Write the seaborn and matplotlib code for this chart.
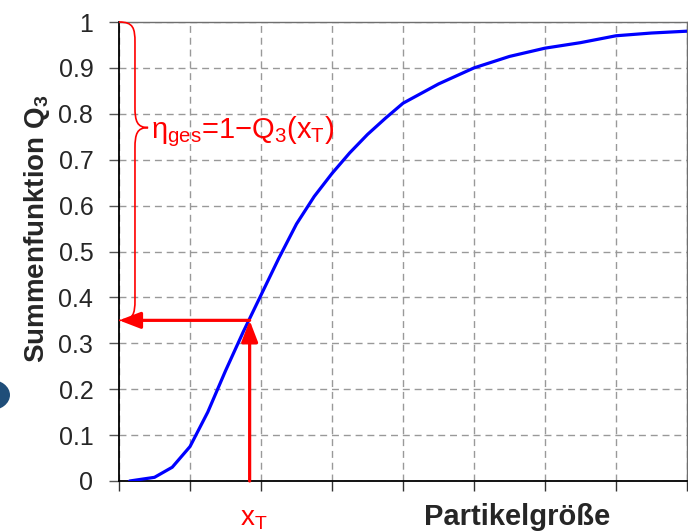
import numpy as np
import pandas as pd
import matplotlib
matplotlib.use("Agg")
import matplotlib.pyplot as plt
from matplotlib.path import Path
from matplotlib.patches import PathPatch, Circle
import seaborn as sns

# ================= data =================
particle_size = [0.15, 0.5, 0.75, 1.0, 1.25, 1.5, 1.75, 2.0, 2.25, 2.5, 2.75, 3.0,
                 3.25, 3.5, 3.75, 4.0, 4.5, 5.0, 5.5, 6.0, 6.5, 7.0, 7.5, 8.0]
q3_values = [0.0, 0.008, 0.03, 0.075, 0.15, 0.24, 0.325, 0.405, 0.485, 0.56, 0.62, 0.67,
             0.715, 0.755, 0.79, 0.823, 0.865, 0.900, 0.925, 0.943, 0.955, 0.970, 0.976, 0.980]
x_ticks = [0, 1, 2, 3, 4, 5, 6, 7, 8]
y_ticks = [0, 0.1, 0.2, 0.3, 0.4, 0.5, 0.6, 0.7, 0.8, 0.9, 1.0]
y_ticklabels = ['0', '0.1', '0.2', '0.3', '0.4', '0.5', '0.6', '0.7', '0.8', '0.9', '1']

x_T = 1.84      # Trenngrenze
Q_T = 0.35      # Q3(x_T)
brace_tip_y = 0.77

RED = '#ff0000'
BLUE = '#0000ff'

sns.set_style('ticks')
plt.rcParams['font.family'] = ['Liberation Sans', 'DejaVu Sans']
plt.rcParams['mathtext.fontset'] = 'custom'
plt.rcParams['mathtext.rm'] = 'Liberation Sans'
plt.rcParams['mathtext.it'] = 'Liberation Sans:italic'
plt.rcParams['mathtext.bf'] = 'Liberation Sans:bold'

df = pd.DataFrame({'x': particle_size, 'Q3': q3_values})

fig = plt.figure(figsize=(6.88, 5.32), dpi=100)
ax = fig.add_axes([119 / 688, 1 - 481 / 532, 568 / 688, 459 / 532])

sns.lineplot(data=df, x='x', y='Q3', ax=ax, color=BLUE, lw=2.3, zorder=4)

ax.set_xlim(0, 8)
ax.set_ylim(0, 1)
ax.set_xticks(x_ticks)
ax.set_xticklabels([])
ax.set_yticks(y_ticks)
ax.set_yticklabels(y_ticklabels, fontsize=18)
ax.tick_params(axis='y', length=7.5, width=1, pad=11, color='#555555')
ax.tick_params(axis='x', length=7, width=1, color='#333333')
ax.grid(True, color='#999999', lw=1, linestyle=(0, (5, 3.5)))
ax.set_axisbelow(True)
for s in ['left', 'bottom']:
    ax.spines[s].set_color('black')
    ax.spines[s].set_linewidth(1.3)
for s in ['top', 'right']:
    ax.spines[s].set_color('#6f6f6f')
    ax.spines[s].set_linewidth(1.0)

ax.set_xlabel('')
ax.set_ylabel('Summenfunktion Q$_\\mathbf{3}$', fontsize=20, fontweight='bold')
ax.yaxis.set_label_coords((52 - 119) / 568, (481 - 229) / 459)
fig.text(517 / 688, 1 - 525 / 532, 'Partikelgröße', fontsize=21, fontweight='bold',
         ha='center', va='baseline')

# arrows x_T -> Q3(x_T) -> axis
arrow_kw = dict(arrowstyle='-|>,head_length=0.65,head_width=0.25', color=RED, lw=2.3,
                shrinkA=0, shrinkB=0, mutation_scale=20)
ax.annotate('', xy=(x_T, Q_T), xytext=(x_T, 0), arrowprops=arrow_kw, zorder=5)
ax.annotate('', xy=(0, Q_T), xytext=(x_T, Q_T), arrowprops=arrow_kw, zorder=5)
ax.text(x_T + 0.06, (481 - 525) / 459, 'x$_\\mathrm{T}$', color=RED, fontsize=20,
        ha='center', va='baseline', clip_on=False)

# curly brace from Q3(x_T) to 1
bx, tx, r = 0.225, 0.41, 0.045
verts = [(0, 1.0), (bx * 0.9, 1.0), (bx, 1.0 - r * 0.3), (bx, 1.0 - r),
         (bx, brace_tip_y + r),
         (bx, brace_tip_y + r * 0.3), (bx + 0.03, brace_tip_y), (tx, brace_tip_y),
         (bx + 0.03, brace_tip_y), (bx, brace_tip_y - r * 0.3), (bx, brace_tip_y - r),
         (bx, Q_T + r),
         (bx, Q_T + r * 0.3), (bx * 0.9, Q_T), (0, Q_T)]
codes = [Path.MOVETO, Path.CURVE4, Path.CURVE4, Path.CURVE4, Path.LINETO,
         Path.CURVE4, Path.CURVE4, Path.CURVE4,
         Path.CURVE4, Path.CURVE4, Path.CURVE4, Path.LINETO,
         Path.CURVE4, Path.CURVE4, Path.CURVE4]
ax.add_patch(PathPatch(Path(verts, codes), fill=False, edgecolor=RED, lw=1.2, zorder=5,
                       clip_on=False))
ax.text(tx + 0.04, (481 - 138) / 459, 'η$_\\mathrm{ges}$=1−Q$_3$(x$_\\mathrm{T}$)', color=RED,
        fontsize=21, ha='left', va='baseline')

# Rest eines Symbols am linken Rand
fig.patches.append(Circle((-10 / 688, 1 - 395 / 532), 20 / 688, transform=fig.transFigure,
                          facecolor='#1f4e79', edgecolor='none'))

fig.savefig('out.png', dpi=100)
